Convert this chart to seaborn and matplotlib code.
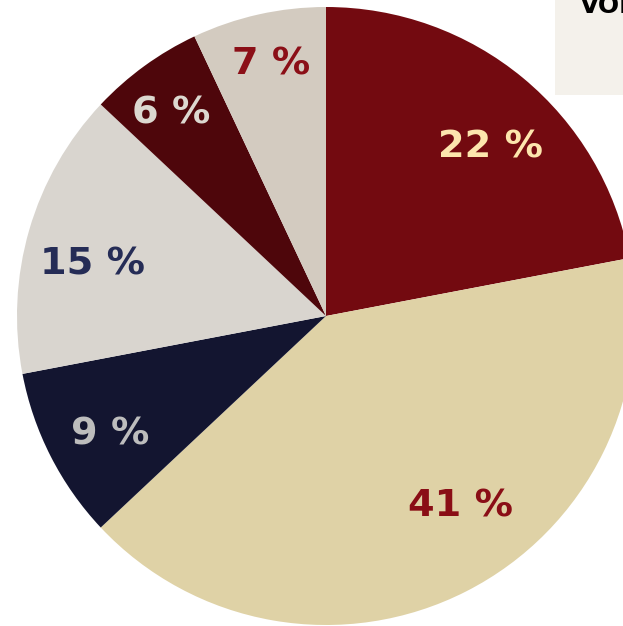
import matplotlib
matplotlib.use("Agg")
import matplotlib.pyplot as plt
from matplotlib.patches import Rectangle
import seaborn as sns

# ---- data ----
categories = ["A", "B", "C", "D", "E", "F"]
shares = [22, 41, 9, 15, 6, 7]
labels = ["22 %", "41 %", "9 %", "15 %", "6 %", "7 %"]
legend_title = "VOLUME"

# ---- styles / layout ----
slice_colors = ["#730a10", "#dfd2a6", "#131530", "#d9d5cf", "#4e060b", "#d3cbc0"]
label_colors = ["#fde5ad", "#8a0e16", "#bdbdbd", "#252c56", "#dcd8d0", "#8b0f17"]
# pixel nudges (right, down) of each label from its default pie position
label_nudge_px = [(13, 15), (26, -21), (-4, 10), (-5, 15), (-15, -10), (-3, -19)]

sns.set_theme(style="white")
plt.rcParams["font.family"] = ["DejaVu Sans"]

W, H = 623, 626
fig = plt.figure(figsize=(W / 100, H / 100), dpi=100)
fig.patch.set_facecolor("white")

R = 309
cx, cy = 326, 316
ax = fig.add_axes([(cx - R) / W, (H - cy - R) / H, 2 * R / W, 2 * R / H])

palette = sns.color_palette(slice_colors)
wedges, texts, autotexts = ax.pie(
    shares,
    colors=palette,
    startangle=90,
    counterclock=False,
    radius=1,
    autopct=lambda p: "",
    pctdistance=0.77,
    wedgeprops=dict(linewidth=0),
)
for t, lab, c, (nx, ny) in zip(autotexts, labels, label_colors, label_nudge_px):
    t.set_text(lab)
    t.set_color(c)
    t.set_fontsize(27.5)
    t.set_fontweight("bold")
    x, y = t.get_position()
    t.set_position((x + nx / R, y - ny / R))
ax.set_xlim(-1, 1)
ax.set_ylim(-1, 1)
ax.set_axis_off()

# partially visible legend box in the top-right corner
fig.add_artist(Rectangle((555 / W, (H - 95) / H), 0.2, 0.2,
                         transform=fig.transFigure, facecolor="#f4f1eb",
                         edgecolor="none", zorder=0))
fig.text(580 / W, (H - 13) / H, legend_title, fontsize=18, fontweight="bold",
         color="black", ha="left", va="baseline")

fig.savefig("out.png", dpi=100)
